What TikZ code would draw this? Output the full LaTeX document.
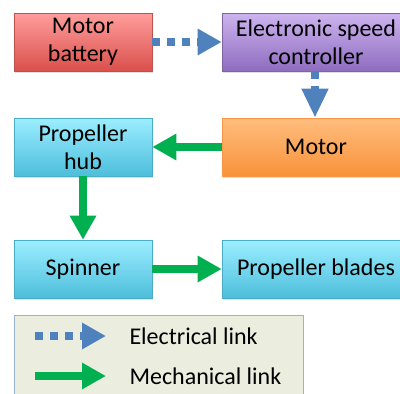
\documentclass[tikz,border=0pt]{standalone}
\usepackage{fontspec}
\setmainfont{Carlito}
\usetikzlibrary{arrows.meta,positioning,shadows}

\definecolor{redtop}{HTML}{FF9E9C}
\definecolor{redbot}{HTML}{D9504C}
\definecolor{redline}{HTML}{C0504D}
\definecolor{purtop}{HTML}{CDB4EE}
\definecolor{purbot}{HTML}{8E6CC0}
\definecolor{purline}{HTML}{8064A2}
\definecolor{orgtop}{HTML}{FFBE7E}
\definecolor{orgbot}{HTML}{F8923A}
\definecolor{orgline}{HTML}{F79646}
\definecolor{cyntop}{HTML}{9CEEFF}
\definecolor{cynbot}{HTML}{4DBEDC}
\definecolor{cynline}{HTML}{4BACC6}
\definecolor{elecblue}{HTML}{4F81BD}
\definecolor{mechgreen}{HTML}{00B050}
\definecolor{legfill}{HTML}{EBEDDF}
\definecolor{legline}{HTML}{95B3D7}

\begin{document}
\begin{tikzpicture}[x=1pt, y=-1pt,
  font=\fontsize{24}{28}\selectfont,
  block/.style={draw, line width=0.6pt, minimum height=58pt, align=center,
    inner sep=2pt, drop shadow={shadow xshift=1.2pt, shadow yshift=-1.5pt, opacity=0.25}},
  redbox/.style={block, draw=redline, top color=redtop, bottom color=redbot},
  purbox/.style={block, draw=purline, top color=purtop, bottom color=purbot},
  orgbox/.style={block, draw=orgline, top color=orgtop, bottom color=orgbot},
  cynbox/.style={block, draw=cynline, top color=cyntop, bottom color=cynbot},
  elec/.style={elecblue, line width=8pt, dash pattern=on 8pt off 7pt,
    -{Triangle[length=24pt, width=25pt]}},
  mech/.style={mechgreen, line width=8pt,
    -{Triangle[length=24pt, width=25pt]}}]
  \clip (0,0) rectangle (400,394);
  \useasboundingbox (0,0) rectangle (400,394);

  % blocks
  \node[redbox, minimum width=138pt] (battery) at (83,42) {Motor\\battery};
  \node[purbox, minimum width=188pt] (esc) at (316,42) {Electronic speed\\controller};
  \node[orgbox, minimum width=188pt] (motor) at (316,147) {Motor};
  \node[cynbox, minimum width=138pt] (hub) at (83,147) {Propeller\\hub};
  \node[cynbox, minimum width=138pt] (spinner) at (83,269) {Spinner};
  \node[cynbox, minimum width=188pt] (blades) at (316,269) {Propeller blades};

  % links
  \draw[elec] (battery.east) -- (esc.west);
  \draw[elec, -{Triangle[length=29pt, width=25pt]}]
    (esc.south -| 315,0) -- (motor.north -| 315,0);
  \draw[mech] (motor.west) -- (hub.east);
  \draw[mech] (hub.south) -- (spinner.north);
  \draw[mech] (spinner.east) -- (blades.west);

  % legend
  \draw[legline, fill=legfill, line width=0.8pt] (14,315) rectangle (303,410);
  \coordinate (e0) at (35,336);
  \coordinate (e1) at (106,336);
  \coordinate (m0) at (35,376);
  \coordinate (m1) at (106,376);
  \draw[elec] (e0) -- (e1);
  \draw[mech] (m0) -- (m1);
  \node[anchor=west] (eltext) at (126,336) {Electrical link};
  \node[anchor=west] (metext) at (126,376) {Mechanical link};
\end{tikzpicture}
\end{document}
